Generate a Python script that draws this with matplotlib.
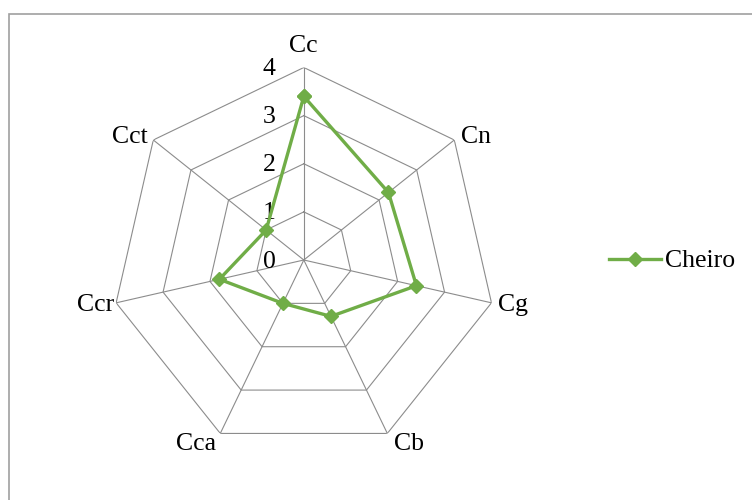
import numpy as np
import matplotlib.pyplot as plt
from matplotlib.patches import Rectangle
from matplotlib.transforms import offset_copy

plt.rcParams['font.family'] = ['Liberation Serif', 'DejaVu Serif']

categorias = ['Cc', 'Cn', 'Cg', 'Cb', 'Cca', 'Ccr', 'Cct']
cheiro = [3.4, 2.25, 2.4, 1.3, 1.0, 1.8, 1.0]
niveis = [0, 1, 2, 3, 4]

verde = '#70AD47'
cinza = '#8c8c8c'
fs = 18.5

n = len(categorias)
angulos = np.linspace(0, 2 * np.pi, n, endpoint=False)

fig = plt.figure(figsize=(7.52, 5), dpi=100)
ax = fig.add_axes([0.148, 0.095, 0.512, 0.77], projection='polar')
ax.set_theta_offset(np.pi / 2)
ax.set_theta_direction(-1)
ax.set_ylim(0, 4)
ax.grid(False)
ax.spines['polar'].set_visible(False)
ax.set_xticks([])
ax.set_yticks([])
ax.patch.set_alpha(0)

# grade poligonal
ang_fech = np.append(angulos, angulos[0])
for nv in niveis[1:]:
    ax.plot(ang_fech, [nv] * (n + 1), color=cinza, lw=0.8, zorder=1)
for a in angulos:
    ax.plot([a, a], [0, 4], color=cinza, lw=0.8, zorder=1)

# rótulos radiais
trans = offset_copy(ax.transData, fig=fig, x=-28, y=-7.5, units='dots')
for nv in niveis:
    ax.text(0, nv, str(nv), transform=trans, ha='right', va='baseline', fontsize=fs)

# rótulos das categorias (estilo Excel: junto ao vértice)
for a, c in zip(angulos, categorias):
    s, co = np.sin(a), np.cos(a)
    if co > 0.9:
        dy = 15.5
    elif co > 0.3:
        dy = -3
    elif co > -0.3:
        dy = -8
    else:
        dy = -17
    if s > 0.1:
        ha, dx = 'left', 7
    elif s < -0.1:
        ha = 'right'
        dx = -6 if co > 0.3 else (-2 if co > -0.3 else -4)
    else:
        ha, dx = 'center', 0
    t = offset_copy(ax.transData, fig=fig, x=dx, y=dy, units='dots')
    ax.text(a, 4, c, transform=t, ha=ha, va='baseline', fontsize=fs)

valores = cheiro + [cheiro[0]]
linha, = ax.plot(ang_fech, valores, color=verde, lw=2.4, marker='D', ms=7,
                 zorder=3, label='Cheiro')
ax.set_ylim(0, 4)

fig.legend(handles=[linha], loc='center left', bbox_to_anchor=(0.81, 0.478),
           frameon=False, fontsize=fs, handlelength=2.0, handletextpad=0.16,
           borderpad=0, borderaxespad=0)

fig.add_artist(Rectangle((8.5 / 752, -0.1), 1.2, 1.1 - 14.5 / 500,
                         transform=fig.transFigure, fill=False,
                         edgecolor='#a0a0a0', lw=1.2))

fig.savefig('out.png', dpi=100)
